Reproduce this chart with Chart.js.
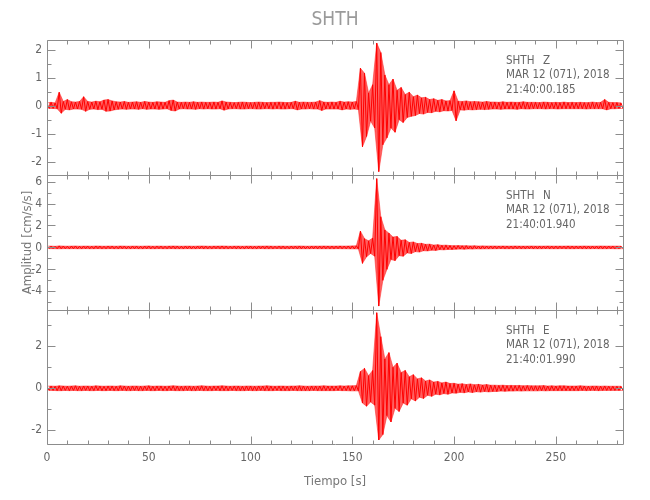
<!DOCTYPE html>
<html>
<head>
<meta charset="utf-8">
<title>SHTH</title>
<script src="https://cdn.jsdelivr.net/npm/chart.js@4.4.1/dist/chart.umd.min.js"></script>
<style>
  html, body { margin: 0; padding: 0; background: #fff; }
  #wrap { position: relative; width: 650px; height: 500px; }
  #wrap canvas { position: absolute; left: 0; top: 0; }
</style>
</head>
<body>
<div id="wrap">
  <canvas id="chart-z" width="650" height="500"></canvas>
  <canvas id="chart-n" width="650" height="500"></canvas>
  <canvas id="chart-e" width="650" height="500"></canvas>
</div>
<script>
// header text
const station = "SHTH";
const components = ["Z", "N", "E"];
const eventDate = "MAR 12 (071), 2018";
const startTimes = ["21:40:00.185", "21:40:01.940", "21:40:01.990"];

// time axis (s)
const binWidth = 2;          // one envelope value per 2 s bin
const timeMax = 283;
const timeTicks = [0, 50, 100, 150, 200, 250];

// amplitude envelopes (cm/s/s), positive peak / negative peak per bin
const zUp = [
  0.10, 0.12, 0.10, 0.48, 0.15, 0.22, 0.14, 0.13, 0.15, 0.32,
  0.15, 0.13, 0.16, 0.14, 0.20, 0.22, 0.17, 0.14, 0.13, 0.15,
  0.12, 0.13, 0.14, 0.12, 0.15, 0.13, 0.12, 0.14, 0.13, 0.12,
  0.18, 0.20, 0.13, 0.12, 0.13, 0.12, 0.14, 0.12, 0.13, 0.12,
  0.12, 0.13, 0.12, 0.17, 0.13, 0.12, 0.11, 0.12, 0.13, 0.12,
  0.11, 0.12, 0.13, 0.12, 0.11, 0.12, 0.12, 0.13, 0.12, 0.11,
  0.12, 0.16, 0.12, 0.13, 0.12, 0.12, 0.13, 0.18, 0.13, 0.12,
  0.13, 0.12, 0.16, 0.13, 0.14, 0.13, 0.15, 1.34, 1.16, 0.45,
  0.75, 2.24, 1.90, 1.10, 0.75, 0.95, 0.55, 0.65, 0.40, 0.48,
  0.32, 0.38, 0.28, 0.30, 0.22, 0.25, 0.19, 0.22, 0.17, 0.18,
  0.53, 0.16, 0.15, 0.17, 0.14, 0.15, 0.14, 0.13, 0.15, 0.13,
  0.13, 0.12, 0.14, 0.12, 0.13, 0.12, 0.12, 0.14, 0.12, 0.12,
  0.12, 0.11, 0.13, 0.12, 0.11, 0.12, 0.11, 0.13, 0.11, 0.12,
  0.11, 0.12, 0.11, 0.11, 0.13, 0.11, 0.12, 0.22, 0.12, 0.11,
  0.11, 0.10
];
const zDown = [
  0.10, 0.10, 0.11, 0.27, 0.13, 0.15, 0.12, 0.12, 0.13, 0.20,
  0.13, 0.12, 0.14, 0.13, 0.20, 0.19, 0.15, 0.13, 0.12, 0.13,
  0.12, 0.12, 0.13, 0.11, 0.13, 0.12, 0.12, 0.13, 0.12, 0.11,
  0.17, 0.19, 0.12, 0.11, 0.12, 0.12, 0.13, 0.11, 0.12, 0.11,
  0.12, 0.12, 0.11, 0.16, 0.12, 0.11, 0.11, 0.12, 0.12, 0.11,
  0.11, 0.12, 0.12, 0.11, 0.11, 0.12, 0.11, 0.12, 0.12, 0.11,
  0.11, 0.15, 0.12, 0.12, 0.11, 0.12, 0.12, 0.17, 0.12, 0.12,
  0.12, 0.12, 0.15, 0.12, 0.13, 0.12, 0.14, 1.47, 1.10, 0.55,
  0.80, 2.36, 1.40, 1.15, 0.80, 0.95, 0.50, 0.60, 0.42, 0.38,
  0.35, 0.28, 0.30, 0.24, 0.25, 0.20, 0.22, 0.18, 0.19, 0.17,
  0.54, 0.15, 0.16, 0.14, 0.15, 0.14, 0.13, 0.14, 0.13, 0.12,
  0.12, 0.13, 0.12, 0.12, 0.12, 0.13, 0.11, 0.12, 0.12, 0.11,
  0.11, 0.11, 0.12, 0.11, 0.11, 0.12, 0.11, 0.11, 0.11, 0.11,
  0.11, 0.11, 0.12, 0.11, 0.11, 0.11, 0.11, 0.15, 0.11, 0.11,
  0.10, 0.10
];
const nUp = [
  0.11, 0.12, 0.10, 0.14, 0.12, 0.11, 0.12, 0.13, 0.11, 0.12,
  0.12, 0.11, 0.13, 0.12, 0.11, 0.12, 0.12, 0.11, 0.13, 0.12,
  0.11, 0.12, 0.12, 0.11, 0.12, 0.13, 0.11, 0.12, 0.12, 0.11,
  0.12, 0.13, 0.12, 0.11, 0.12, 0.12, 0.11, 0.12, 0.13, 0.12,
  0.11, 0.12, 0.12, 0.13, 0.12, 0.11, 0.12, 0.12, 0.11, 0.12,
  0.12, 0.11, 0.12, 0.12, 0.13, 0.12, 0.11, 0.12, 0.12, 0.11,
  0.12, 0.12, 0.13, 0.12, 0.11, 0.12, 0.12, 0.12, 0.13, 0.12,
  0.12, 0.12, 0.13, 0.12, 0.13, 0.14, 0.15, 1.48, 0.80, 0.60,
  0.85, 6.27, 2.80, 1.60, 1.30, 0.95, 1.00, 0.65, 0.70, 0.45,
  0.50, 0.35, 0.38, 0.28, 0.30, 0.22, 0.25, 0.19, 0.21, 0.17,
  0.16, 0.17, 0.15, 0.16, 0.14, 0.15, 0.13, 0.14, 0.13, 0.13,
  0.13, 0.12, 0.13, 0.12, 0.12, 0.13, 0.12, 0.12, 0.12, 0.13,
  0.12, 0.12, 0.12, 0.13, 0.12, 0.12, 0.12, 0.12, 0.13, 0.12,
  0.12, 0.12, 0.13, 0.12, 0.12, 0.12, 0.13, 0.12, 0.12, 0.12,
  0.12, 0.12
];
const nDown = [
  0.11, 0.11, 0.12, 0.12, 0.11, 0.12, 0.11, 0.12, 0.12, 0.11,
  0.12, 0.12, 0.11, 0.12, 0.12, 0.11, 0.12, 0.12, 0.11, 0.12,
  0.12, 0.11, 0.12, 0.12, 0.11, 0.12, 0.12, 0.11, 0.12, 0.12,
  0.11, 0.12, 0.12, 0.12, 0.11, 0.12, 0.12, 0.11, 0.12, 0.12,
  0.12, 0.11, 0.12, 0.12, 0.12, 0.11, 0.12, 0.12, 0.12, 0.11,
  0.12, 0.12, 0.11, 0.12, 0.12, 0.12, 0.11, 0.12, 0.12, 0.12,
  0.11, 0.12, 0.12, 0.12, 0.12, 0.11, 0.12, 0.12, 0.12, 0.12,
  0.12, 0.11, 0.12, 0.12, 0.13, 0.13, 0.14, 1.45, 0.85, 0.55,
  0.80, 5.34, 3.00, 2.00, 1.10, 1.20, 0.75, 0.80, 0.50, 0.55,
  0.38, 0.42, 0.30, 0.32, 0.25, 0.27, 0.20, 0.22, 0.18, 0.19,
  0.16, 0.15, 0.16, 0.14, 0.15, 0.13, 0.14, 0.13, 0.13, 0.12,
  0.12, 0.11, 0.12, 0.12, 0.12, 0.11, 0.12, 0.12, 0.11, 0.12,
  0.12, 0.12, 0.11, 0.12, 0.12, 0.12, 0.11, 0.12, 0.12, 0.12,
  0.11, 0.12, 0.12, 0.12, 0.11, 0.12, 0.12, 0.12, 0.11, 0.12,
  0.12, 0.11
];
const eUp = [
  0.10, 0.11, 0.10, 0.12, 0.11, 0.10, 0.11, 0.12, 0.10, 0.11,
  0.11, 0.10, 0.12, 0.11, 0.10, 0.11, 0.11, 0.10, 0.12, 0.11,
  0.10, 0.11, 0.11, 0.10, 0.11, 0.12, 0.10, 0.11, 0.11, 0.10,
  0.11, 0.12, 0.11, 0.10, 0.11, 0.11, 0.10, 0.11, 0.12, 0.11,
  0.10, 0.11, 0.11, 0.12, 0.11, 0.10, 0.11, 0.11, 0.10, 0.11,
  0.11, 0.10, 0.11, 0.11, 0.12, 0.11, 0.10, 0.11, 0.11, 0.10,
  0.11, 0.11, 0.12, 0.11, 0.10, 0.11, 0.11, 0.11, 0.12, 0.11,
  0.11, 0.11, 0.12, 0.11, 0.12, 0.12, 0.13, 0.80, 0.95, 0.60,
  0.85, 3.60, 2.46, 1.40, 1.70, 1.00, 1.20, 0.75, 0.85, 0.55,
  0.65, 0.45, 0.50, 0.35, 0.40, 0.30, 0.33, 0.26, 0.30, 0.23,
  0.24, 0.20, 0.22, 0.18, 0.21, 0.17, 0.19, 0.16, 0.18, 0.15,
  0.15, 0.14, 0.15, 0.13, 0.14, 0.13, 0.14, 0.12, 0.13, 0.12,
  0.12, 0.12, 0.13, 0.11, 0.12, 0.11, 0.12, 0.12, 0.11, 0.11,
  0.11, 0.12, 0.11, 0.10, 0.11, 0.11, 0.10, 0.11, 0.10, 0.10,
  0.10, 0.10
];
const eDown = [
  0.10, 0.10, 0.11, 0.11, 0.10, 0.11, 0.10, 0.11, 0.11, 0.10,
  0.11, 0.11, 0.10, 0.11, 0.11, 0.10, 0.11, 0.11, 0.10, 0.11,
  0.11, 0.10, 0.11, 0.11, 0.10, 0.11, 0.11, 0.10, 0.11, 0.11,
  0.10, 0.11, 0.11, 0.11, 0.10, 0.11, 0.11, 0.10, 0.11, 0.11,
  0.11, 0.10, 0.11, 0.11, 0.11, 0.10, 0.11, 0.11, 0.11, 0.10,
  0.11, 0.11, 0.10, 0.11, 0.11, 0.11, 0.10, 0.11, 0.11, 0.11,
  0.10, 0.11, 0.11, 0.11, 0.11, 0.10, 0.11, 0.11, 0.11, 0.11,
  0.11, 0.10, 0.11, 0.11, 0.12, 0.12, 0.12, 0.70, 0.85, 0.65,
  0.80, 2.46, 2.20, 1.30, 1.60, 0.95, 1.10, 0.70, 0.80, 0.50,
  0.60, 0.42, 0.48, 0.33, 0.38, 0.28, 0.31, 0.25, 0.28, 0.22,
  0.23, 0.19, 0.21, 0.17, 0.20, 0.16, 0.18, 0.15, 0.17, 0.15,
  0.15, 0.13, 0.14, 0.13, 0.13, 0.12, 0.13, 0.12, 0.12, 0.12,
  0.12, 0.11, 0.12, 0.11, 0.11, 0.11, 0.11, 0.11, 0.11, 0.11,
  0.11, 0.10, 0.11, 0.10, 0.10, 0.11, 0.10, 0.10, 0.10, 0.10,
  0.10, 0.10
];

// y tick labels per panel
const zTicks = [-2, -1, 0, 1, 2];
const nTicks = [-4, -2, 0, 2, 4, 6];
const eTicks = [-2, 0, 2];

const FONT = "'Liberation Sans Narrow', 'DejaVu Sans Condensed', 'Liberation Sans', sans-serif";
Chart.defaults.font.family = FONT;
Chart.defaults.color = "#666";

// envelope edges and the trace going peak to peak inside them
function upper(up) {
    return up.map((u, i) => ({ x: i * binWidth, y: u }));
}
function lower(down) {
    return down.map((d, i) => ({ x: i * binWidth + binWidth / 2, y: -d }));
}
function trace(up, down) {
    const pts = [];
    up.forEach(function (u, i) {
        pts.push({ x: i * binWidth, y: u });
        pts.push({ x: i * binWidth + binWidth / 2, y: -down[i] });
    });
    return pts;
}

// box round the panel, inward ticks on all four sides, station text
const framePlugin = {
    id: "frame",
    afterDraw(chart, args, opts) {
        const { ctx, chartArea: a, scales: { x, y } } = chart;
        const L = Math.round(a.left) + 0.5;
        const R = Math.round(a.right) + 0.5;
        const T = Math.round(a.top) + 0.5;
        const B = Math.round(a.bottom) + 0.5;
        ctx.save();
        ctx.strokeStyle = "#8c8c8c";
        ctx.lineWidth = 1;
        ctx.beginPath();
        ctx.rect(L, T, R - L, B - T);
        for (let t = 0; t <= x.max; t += 10) {
            const px = Math.round(x.getPixelForValue(t)) + 0.5;
            const len = t % 50 === 0 ? 8 : 4;
            ctx.moveTo(px, T); ctx.lineTo(px, T + len);
            ctx.moveTo(px, B); ctx.lineTo(px, B - len);
        }
        const start = Math.ceil(y.min / opts.yMinor) * opts.yMinor;
        for (let v = start; v <= y.max + 1e-9; v += opts.yMinor) {
            const py = Math.round(y.getPixelForValue(v)) + 0.5;
            const k = v / opts.yMajor;
            const len = Math.abs(k - Math.round(k)) < 1e-6 ? 8 : 4;
            ctx.moveTo(L, py); ctx.lineTo(L + len, py);
            ctx.moveTo(R, py); ctx.lineTo(R - len, py);
        }
        ctx.stroke();

        ctx.fillStyle = "#666";
        ctx.font = "11.5px " + FONT;
        ctx.textBaseline = "middle";
        ctx.fillText(station, 506, a.top + 21);
        ctx.fillText(opts.comp, 543, a.top + 21);
        ctx.fillText(eventDate, 506, a.top + 35.5);
        ctx.fillText(opts.time, 506, a.top + 50);

        if (opts.title) {
            ctx.fillStyle = "#9a9a9a";
            ctx.font = "19px " + FONT;
            ctx.textAlign = "center";
            ctx.fillText(opts.title, (a.left + a.right) / 2, 20);
        }
        ctx.restore();
    }
};

function makePanel(id, cfg) {
    const bottom = !!cfg.bottom;
    return new Chart(document.getElementById(id), {
        type: "line",
        data: {
            datasets: [{
                data: trace(cfg.up, cfg.down),
                borderColor: "#ff0000",
                borderWidth: 1,
                pointRadius: 0,
                tension: 0,
                fill: false
            }, {
                data: upper(cfg.up),
                borderColor: "rgba(255, 40, 40, 0.55)",
                borderWidth: 1,
                pointRadius: 0,
                tension: 0,
                fill: false
            }, {
                data: lower(cfg.down),
                borderColor: "rgba(255, 40, 40, 0.55)",
                backgroundColor: "rgba(255, 20, 20, 0.68)",
                borderWidth: 1,
                pointRadius: 0,
                tension: 0,
                fill: "-1"
            }]
        },
        options: {
            responsive: false,
            animation: false,
            events: [],
            layout: { padding: { top: cfg.padTop, bottom: cfg.padBottom, left: 0, right: 27 } },
            plugins: {
                legend: { display: false },
                tooltip: { enabled: false },
                title: { display: false },
                frame: { yMajor: cfg.yMajor, yMinor: cfg.yMinor, comp: cfg.comp, time: cfg.time, title: cfg.title }
            },
            scales: {
                x: {
                    type: "linear",
                    min: 0,
                    max: timeMax,
                    display: bottom,
                    grid: { display: false, drawTicks: false },
                    border: { display: false },
                    afterBuildTicks: s => { s.ticks = timeTicks.map(v => ({ value: v })); },
                    afterFit: s => { s.height = bottom ? 56 : 0; },
                    ticks: { padding: 7, maxRotation: 0, font: { size: 12 } },
                    title: {
                        display: bottom,
                        text: "Tiempo [s]",
                        color: "#777",
                        font: { size: 13 },
                        padding: { top: 0, bottom: 11 }
                    }
                },
                y: {
                    type: "linear",
                    min: cfg.min,
                    max: cfg.max,
                    grid: { display: false, drawTicks: false },
                    border: { display: false },
                    afterBuildTicks: s => { s.ticks = cfg.ticks.map(v => ({ value: v })); },
                    afterFit: s => { s.width = 47; },
                    ticks: { padding: 5, font: { size: 12 } },
                    title: {
                        display: !!cfg.yTitle,
                        text: cfg.yTitle || "",
                        color: "#777",
                        font: { size: 13 },
                        padding: { top: 20, bottom: 0 }
                    }
                }
            }
        },
        plugins: [framePlugin]
    });
}

makePanel("chart-z", {
    up: zUp, down: zDown, ticks: zTicks, min: -2.48, max: 2.35, yMajor: 1, yMinor: 0.5,
    comp: components[0], time: startTimes[0], title: station, padTop: 40, padBottom: 325
});
makePanel("chart-n", {
    up: nUp, down: nDown, ticks: nTicks, min: -5.7, max: 6.6, yMajor: 2, yMinor: 1,
    comp: components[1], time: startTimes[1], yTitle: "Amplitud [cm/s/s]", padTop: 175, padBottom: 190
});
makePanel("chart-e", {
    up: eUp, down: eDown, ticks: eTicks, min: -2.65, max: 3.73, yMajor: 2, yMinor: 1,
    comp: components[2], time: startTimes[2], bottom: true, padTop: 310, padBottom: 0
});
</script>
</body>
</html>
